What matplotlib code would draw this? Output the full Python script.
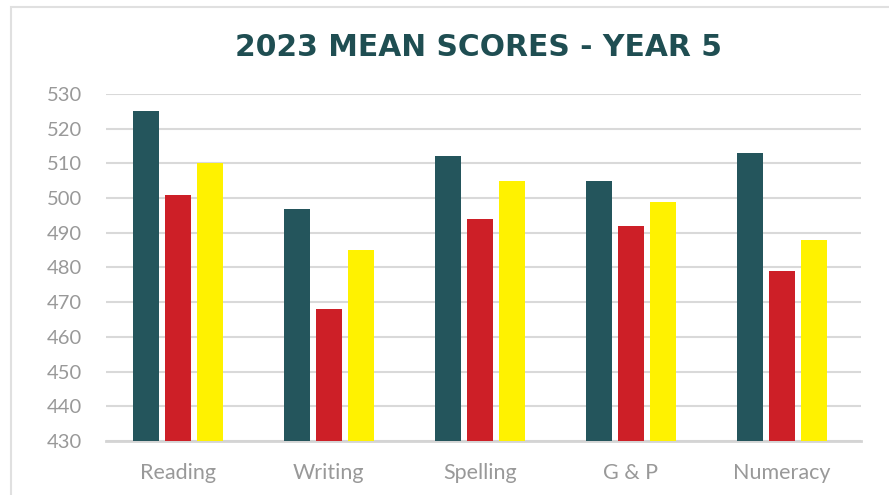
import numpy as np
import matplotlib
matplotlib.use("Agg")
from matplotlib import pyplot as plt
from matplotlib.patches import Rectangle

categories = ["Reading", "Writing", "Spelling", "G & P", "Numeracy"]
series_a = [525, 497, 512, 505, 513]   # dark teal
series_b = [501, 468, 494, 492, 479]   # red
series_c = [510, 485, 505, 499, 488]   # yellow
yticks = [430, 440, 450, 460, 470, 480, 490, 500, 510, 520, 530]

colors = ["#24555C", "#CD1F27", "#FFF200"]
plt.rcParams['font.family'] = ['Lato', 'DejaVu Sans']

fig = plt.figure(figsize=(8.89, 4.95), dpi=100)
ax = fig.add_axes([0.1192, 0.1091, 0.8493, 0.701])

x = np.arange(len(categories))
w = 0.172
step = 0.212
for i, (vals, c) in enumerate(zip([series_a, series_b, series_c], colors)):
    ax.bar(x + (i - 1) * step, np.array(vals) - 430, width=w, bottom=430,
           color=c, zorder=3)

ax.set_ylim(430, 530)
ax.set_xlim(-0.477, 4.526)
ax.set_yticks(yticks)
ax.set_xticks(x)
ax.set_xticklabels(categories)
ax.grid(axis="y", color="#d9d9d9", linewidth=1.5, zorder=0)
for s in ["top", "right", "left"]:
    ax.spines[s].set_visible(False)
ax.spines["bottom"].set_color("#d4d4d4")
ax.spines["bottom"].set_linewidth(2)
ax.tick_params(axis="y", length=0, labelsize=14.5, labelcolor="#999999", pad=17)
ax.tick_params(axis="x", length=0, labelsize=15.5, labelcolor="#999999", pad=16)

fig.text(0.538, 0.904, "2023 MEAN SCORES - YEAR 5", ha="center", va="center",
         fontsize=21.4, fontweight="bold", color="#1F4E52",
         family=["DejaVu Sans"])

# light frame around the card
fig.patches.append(Rectangle((11 / 889, -0.1), 1.2, 1 - 7 / 495 + 0.1,
                             transform=fig.transFigure, fill=False,
                             edgecolor="#e0e0e0", linewidth=1.5))

plt.savefig("out.png", dpi=100)
